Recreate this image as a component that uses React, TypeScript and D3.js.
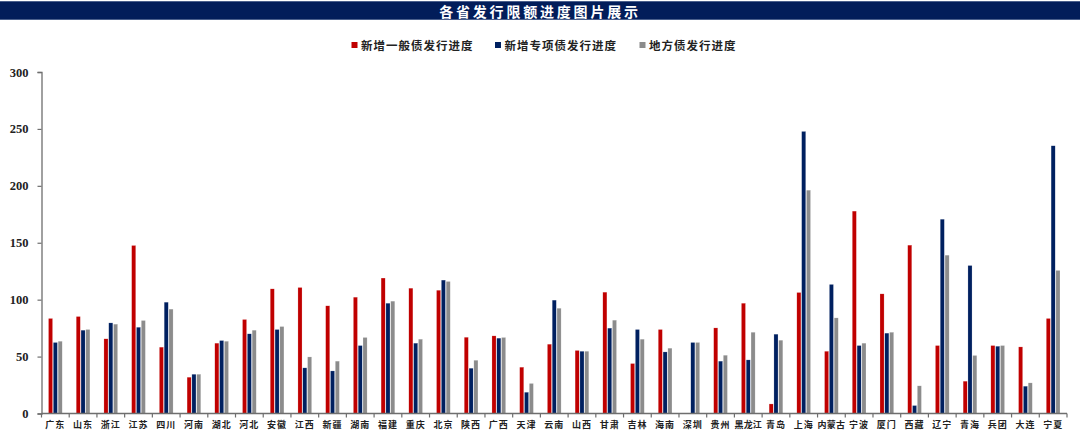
import { useEffect, useRef } from "react";
import * as d3 from "d3";

const provinces = [
  "广东", "山东", "浙江", "江苏", "四川", "河南", "湖北", "河北", "安徽", "江西",
  "新疆", "湖南", "福建", "重庆", "北京", "陕西", "广西", "天津", "云南", "山西",
  "甘肃", "吉林", "海南", "深圳", "贵州", "黑龙江", "青岛", "上海", "内蒙古", "宁波",
  "厦门", "西藏", "辽宁", "青海", "兵团", "大连", "宁夏",
];

// 新增一般债发行进度
const generalDebt = [
  83.5, 85.2, 65.6, 147.6, 58.3, 31.9, 61.8, 82.6, 109.5, 110.7,
  94.6, 102.2, 119, 110.1, 108.3, 67, 68.2, 40.7, 60.9, 55.4,
  106.6, 43.9, 73.8, 0, 75.2, 96.9, 8.4, 106.3, 54.7, 177.8,
  105.1, 147.9, 59.7, 28.4, 59.7, 58.5, 83.5,
];

// 新增专项债发行进度
const specialDebt = [
  62.4, 73.2, 79.6, 75.8, 97.8, 34.5, 64.1, 70, 73.8, 40.1,
  37.4, 59.7, 96.9, 61.8, 117.2, 39.8, 66.2, 18.7, 99.6, 54.7,
  75, 73.8, 54.1, 62.4, 46, 47.1, 69.7, 247.8, 113.4, 59.7,
  70.6, 7, 170.7, 130, 59.1, 24, 235.2,
];

// 地方债发行进度
const localDebt = [
  63.5, 73.8, 78.5, 81.7, 91.7, 34.5, 63.5, 73.2, 76.4, 49.7,
  46, 66.8, 98.7, 65.3, 116, 46.8, 66.8, 26.4, 92.5, 54.7,
  82, 65.3, 57.4, 62.4, 51.2, 71.4, 64.4, 196.2, 84, 61.8,
  71.4, 24.3, 139.1, 51, 59.7, 26.9, 125.7,
];

const seriesNames = ["新增一般债发行进度", "新增专项债发行进度", "地方债发行进度"];
const seriesColors = ["#c00000", "#002060", "#8c8c8c"];
const yTicks = [0, 50, 100, 150, 200, 250, 300];

const title = "各省发行限额进度图片展示";

export default function App() {
  const svgRef = useRef<SVGSVGElement | null>(null);

  useEffect(() => {
    const width = 1080;
    const height = 437;
    const marginLeft = 41.5;
    const marginRight = 13;
    const marginTop = 72;
    const marginBottom = 23.5;

    const cjk = "'Noto Sans CJK SC', sans-serif";
    const serif = "'Liberation Serif', 'Times New Roman', serif";

    const svg = d3.select(svgRef.current)
      .attr("width", width)
      .attr("height", height)
      .attr("viewBox", `0 0 ${width} ${height}`);

    svg.selectAll("*").remove();

    svg.append("rect")
      .attr("width", width)
      .attr("height", height)
      .attr("fill", "#fff");

    // Title bar
    svg.append("rect")
      .attr("x", 0)
      .attr("y", 1.5)
      .attr("width", width)
      .attr("height", 18)
      .attr("fill", "#021d5a");
    svg.append("line")
      .attr("x1", 0).attr("x2", width)
      .attr("y1", 1.5).attr("y2", 1.5)
      .attr("stroke", "#4a5f8c");
    svg.append("line")
      .attr("x1", 0).attr("x2", width)
      .attr("y1", 19.5).attr("y2", 19.5)
      .attr("stroke", "#4a5f8c");
    svg.append("text")
      .attr("x", 540)
      .attr("y", 11)
      .attr("text-anchor", "middle")
      .attr("dominant-baseline", "central")
      .attr("fill", "#fff")
      .attr("font-family", cjk)
      .attr("font-weight", 700)
      .attr("font-size", 14)
      .attr("letter-spacing", 2.8)
      .text(title);

    // Legend
    const legendX = [351.5, 495, 639.5];
    const legend = svg.append("g");
    seriesNames.forEach((name, i) => {
      legend.append("rect")
        .attr("x", legendX[i])
        .attr("y", 42)
        .attr("width", 6)
        .attr("height", 6)
        .attr("fill", seriesColors[i]);
      legend.append("text")
        .attr("x", legendX[i] + 9.5)
        .attr("y", 45)
        .attr("dominant-baseline", "central")
        .attr("font-family", cjk)
        .attr("font-weight", 700)
        .attr("font-size", 11.5)
        .attr("letter-spacing", 1)
        .attr("fill", "#222")
        .text(name);
    });

    // Scales
    const x0 = d3.scaleBand<string>()
      .domain(provinces)
      .range([marginLeft, width - marginRight])
      .padding(0);

    const x1 = d3.scaleBand<number>()
      .domain([0, 1, 2])
      .range([7, x0.bandwidth() - 7])
      .paddingInner(0.15);

    const y = d3.scaleLinear()
      .domain([0, 300])
      .range([height - marginBottom, marginTop]);

    const series = [generalDebt, specialDebt, localDebt];

    // Bars
    const groups = svg.append("g")
      .selectAll("g")
      .data(provinces)
      .join("g")
      .attr("transform", d => `translate(${x0(d)},0)`);

    groups.selectAll("rect")
      .data((_, i) => series.map((s, k) => ({ k, v: s[i] })))
      .join("rect")
      .attr("x", d => x1(d.k) ?? 0)
      .attr("y", d => y(d.v))
      .attr("width", x1.bandwidth())
      .attr("height", d => Math.max(0, y(0) - y(d.v)))
      .attr("fill", d => seriesColors[d.k])
      .attr("stroke", "#ffffff")
      .attr("stroke-opacity", 0.5)
      .attr("stroke-width", 0.4);

    // Y axis
    const yAxis = svg.append("g")
      .attr("transform", `translate(${marginLeft},0)`)
      .call(d3.axisLeft(y).tickValues(yTicks).tickSize(4).tickPadding(9));
    yAxis.select(".domain").attr("stroke", "#6e6e6e").attr("stroke-width", 1.3);
    yAxis.selectAll(".tick line").attr("stroke", "#6e6e6e").attr("stroke-width", 1.2);
    yAxis.selectAll(".tick text")
      .attr("font-family", serif)
      .attr("font-weight", 700)
      .attr("font-size", 12.5)
      .attr("fill", "#222");

    // X axis with ticks at category boundaries
    const xAxis = svg.append("g")
      .attr("transform", `translate(0,${y(0)})`);
    xAxis.append("line")
      .attr("x1", marginLeft)
      .attr("x2", width - marginRight)
      .attr("stroke", "#6e6e6e")
      .attr("stroke-width", 1.3);
    xAxis.selectAll(".xtick")
      .data(provinces.concat(["__end"]))
      .join("line")
      .attr("class", "xtick")
      .attr("x1", (d, i) => i < provinces.length ? (x0(d) ?? 0) : width - marginRight)
      .attr("x2", (d, i) => i < provinces.length ? (x0(d) ?? 0) : width - marginRight)
      .attr("y1", 0)
      .attr("y2", 4)
      .attr("stroke", "#6e6e6e")
      .attr("stroke-width", 1.2);
    xAxis.selectAll(".xlabel")
      .data(provinces)
      .join("text")
      .attr("class", "xlabel")
      .attr("x", d => (x0(d) ?? 0) + x0.bandwidth() / 2)
      .attr("y", 11)
      .attr("text-anchor", "middle")
      .attr("dominant-baseline", "central")
      .attr("font-family", cjk)
      .attr("font-weight", 700)
      .attr("font-size", 9)
      .attr("letter-spacing", d => d.length > 2 ? 0.2 : 1)
      .attr("fill", "#222")
      .text(d => d);
  }, []);

  return (
    <div style={{ position: "absolute", left: 0, top: 0 }}>
      <svg ref={svgRef} style={{ display: "block" }} />
    </div>
  );
}
